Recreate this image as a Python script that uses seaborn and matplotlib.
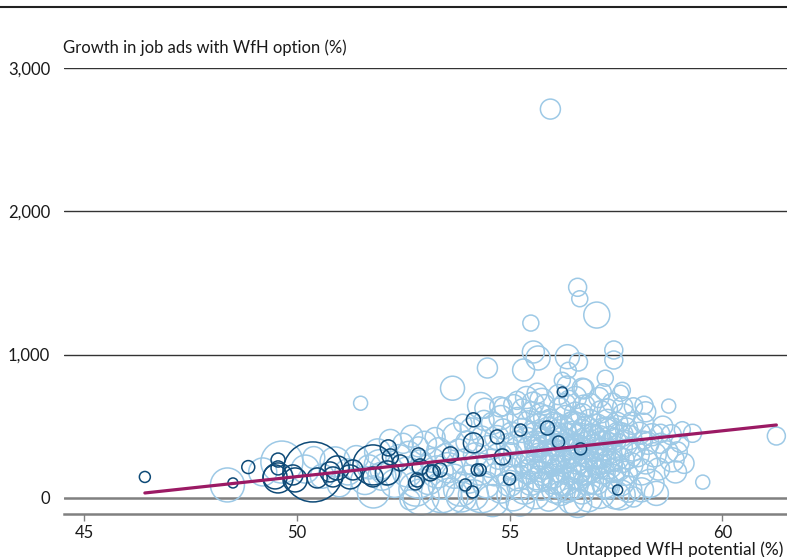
import matplotlib
matplotlib.use("Agg")
import matplotlib.pyplot as plt
from matplotlib.lines import Line2D
import seaborn as sns
import pandas as pd

# ---------------- data ----------------
# light-blue bubbles: untapped WfH potential (%), growth in WfH job ads (%), bubble weight
light_x = [55.96, 55.50, 56.60, 56.65, 57.05, 57.45, 57.45, 51.50, 53.66, 54.48,
           55.56, 55.67, 56.36, 56.62, 56.38, 56.24, 56.71, 57.25, 57.20, 57.61,
           57.91, 55.33, 55.18, 54.85, 54.42, 55.76, 58.16, 58.74, 59.06, 61.27,
           59.54, 58.94, 58.82, 57.65, 57.66, 58.15, 58.55, 58.10, 57.91, 54.32,
           54.77, 53.58, 53.75, 53.34, 52.86, 52.63, 51.94, 51.70, 52.92, 53.40,
           53.87, 54.34, 52.66, 48.37, 49.65,
           # band 53-55
           53.1, 53.2, 53.3, 53.4, 53.5, 53.55, 53.7, 53.8, 53.85, 53.95,
           54.0, 54.05, 54.15, 54.2, 54.3, 54.35, 54.45, 54.5, 54.55, 54.6,
           54.65, 54.7, 54.75, 54.8, 54.85, 54.9, 54.95, 53.0, 53.25, 53.6,
           54.1, 54.4, 54.6, 54.8, 53.9,
           # band 55-56
           55.0, 55.02, 55.05, 55.08, 55.1, 55.15, 55.18, 55.2, 55.22, 55.25,
           55.3, 55.32, 55.35, 55.4, 55.42, 55.45, 55.48, 55.5, 55.52, 55.55,
           55.58, 55.6, 55.62, 55.65, 55.68, 55.7, 55.72, 55.75, 55.78, 55.8,
           55.82, 55.85, 55.87, 55.9, 55.92, 55.95, 55.4, 55.65, 55.85, 55.1,
           55.3, 55.55, 55.75, 55.25, 55.45,
           # band 56-57
           56.0, 56.02, 56.05, 56.08, 56.1, 56.12, 56.15, 56.18, 56.2, 56.22,
           56.25, 56.28, 56.3, 56.32, 56.35, 56.38, 56.4, 56.42, 56.45, 56.48,
           56.5, 56.52, 56.55, 56.58, 56.6, 56.62, 56.65, 56.68, 56.7, 56.72,
           56.75, 56.78, 56.8, 56.82, 56.85, 56.88, 56.9, 56.15, 56.35, 56.55,
           56.75, 56.05, 56.25, 56.45, 56.65, 56.85, 56.95, 56.3, 56.5, 56.7,
           56.1, 56.4, 56.6, 56.8, 56.9,
           # band 57-58
           57.0, 57.03, 57.05, 57.08, 57.1, 57.12, 57.15, 57.18, 57.2, 57.22,
           57.25, 57.28, 57.3, 57.32, 57.35, 57.38, 57.4, 57.42, 57.45, 57.48,
           57.5, 57.52, 57.55, 57.58, 57.6, 57.62, 57.65, 57.68, 57.7, 57.72,
           57.75, 57.78, 57.8, 57.82, 57.85, 57.88, 57.9, 57.1, 57.3, 57.6,
           # band 58-59.5
           58.0, 58.05, 58.1, 58.15, 58.2, 58.25, 58.3, 58.35, 58.4, 58.5,
           58.55, 58.6, 58.7, 58.8, 59.0, 59.1, 58.45, 58.2, 59.3, 58.9,
           # band 49-53
           50.2, 50.6, 50.9, 51.2, 51.4, 51.6, 51.9, 52.1, 52.3, 52.4,
           52.6, 52.8, 52.9, 52.5, 51.0, 52.2, 52.7, 49.2, 50.4, 51.8,
           52.0, 52.85,
           # dense core
           55.55, 55.6, 55.7, 55.8, 55.9, 56.0, 56.1, 56.2, 56.3, 56.4,
           56.5, 56.6, 56.7, 56.8, 56.9, 57.0, 57.1, 57.2, 57.3, 57.4,
           55.65, 55.75, 55.85, 55.95, 56.05, 56.15, 56.25, 56.35, 56.45, 56.55,
           56.65, 56.75, 56.85, 56.95, 57.05, 57.15, 57.25, 57.35, 57.45, 57.55]
light_y = [2715, 1220, 1470, 1390, 1276, 1032, 962, 660, 765, 906,
           1018, 976, 985, 948, 890, 820, 765, 835, 740, 730,
           635, 892, 680, 635, 625, 680, 646, 640, 475, 431,
           109, 320, 265, 750, 635, 402, 450, 55, 5, 644,
           635, 470, 425, 335, 355, 310, 230, 215, 5, 35,
           5, 35, -15, 89, 249,
           120, 260, 180, 80, 300, 210, 150, 340, 60, 250,
           390, 130, 20, 300, 200, 430, 90, 350, 240, -20,
           160, 420, 290, 60, 480, 190, 370, 380, 420, 10,
           480, 540, 520, 560, 520,
           100, 300, 450, 20, 220, 380, 560, 140, 320, -30,
           470, 250, 60, 400, 180, 530, 330, 100, 600, 260,
           440, 20, 360, 160, 500, 290, 580, 80, 410, 220,
           650, 340, 130, 470, -10, 270, 700, 730, 560, 650,
           620, 660, 370, 80, 230,
           380, 150, 520, 60, 300, 440, 200, 620, 30, 350,
           480, 250, 120, 560, 400, 180, 680, 310, -20, 450,
           220, 90, 590, 360, 270, 500, 140, 420, 40, 330,
           640, 230, 470, 110, 380, 540, 290, 720, 780, 700,
           760, 250, 410, 330, 200, 0, 430, 650, 520, 580,
           90, 60, -40, 180, 650,
           350, 120, 500, 250, 420, 30, 600, 300, 180, 460,
           380, 80, 540, 230, 320, 470, 150, 660, 400, 20,
           280, 520, 200, 350, 110, 440, 260, 580, 380, 170,
           480, 300, 60, 420, 230, 520, 340, 700, 620, 20,
           300, 450, 180, 520, 250, 380, 100, 440, 300, 200,
           380, 500, 320, 440, 380, 240, 30, 600, 450, 180,
           200, 150, 250, 180, 280, 120, 320, 200, 100, 280,
           180, 60, 250, 380, 90, 400, 430, 180, 280, 40,
           150, 130,
           210, 390, 130, 460, 320, 240, 510, 100, 430, 280,
           360, 190, 470, 300, 120, 430, 220, 340, 480, 260,
           330, 170, 260, 540, 110, 370, 290, 50, 520, 150,
           350, 410, 240, 190, 280, 380, 90, 420, 190, 450]
light_w = [100, 64, 81, 64, 169, 81, 81, 49, 144, 100,
           121, 144, 144, 81, 64, 64, 100, 64, 64, 64,
           81, 121, 81, 81, 100, 144, 81, 49, 64, 81,
           49, 100, 144, 64, 100, 81, 81, 144, 100, 169,
           100, 144, 196, 144, 100, 144, 225, 144, 324, 400,
           225, 400, 100, 289, 441,
           196, 144, 256, 169, 121, 225, 144, 100, 289, 169,
           121, 196, 225, 144, 256, 100, 169, 144, 196, 256,
           121, 144, 169, 196, 100, 225, 121, 144, 100, 324,
           121, 100, 121, 144, 81,
           169, 144, 121, 256, 196, 144, 100, 169, 225, 196,
           144, 121, 225, 169, 144, 121, 196, 144, 100, 169,
           144, 196, 121, 225, 144, 169, 121, 196, 144, 169,
           100, 196, 144, 169, 144, 225, 121, 100, 144, 100,
           100, 121, 144, 169, 196,
           169, 144, 121, 196, 225, 144, 169, 121, 144, 196,
           169, 144, 225, 144, 121, 169, 100, 196, 169, 144,
           169, 196, 121, 144, 225, 169, 144, 196, 144, 169,
           121, 144, 196, 169, 144, 121, 169, 100, 100, 121,
           100, 144, 144, 169, 169, 196, 144, 121, 144, 121,
           169, 144, 196, 169, 121,
           169, 196, 144, 169, 144, 225, 121, 169, 144, 196,
           144, 169, 121, 196, 144, 169, 144, 100, 144, 196,
           169, 121, 144, 169, 196, 144, 144, 121, 169, 144,
           121, 196, 169, 144, 144, 121, 144, 100, 100, 225,
           144, 121, 169, 100, 144, 121, 196, 121, 144, 121,
           100, 100, 121, 100, 81, 100, 144, 100, 81, 121,
           196, 144, 225, 169, 144, 196, 169, 256, 196, 169,
           225, 289, 144, 100, 144, 121, 121, 196, 121, 256,
           196, 361,
           144, 121, 169, 121, 144, 169, 121, 144, 169, 121,
           144, 169, 121, 144, 169, 121, 144, 121, 144, 121,
           121, 144, 169, 121, 144, 121, 169, 144, 121, 169,
           144, 121, 169, 144, 121, 144, 169, 121, 144, 121]

# dark-blue bubbles
dark_x = [46.43, 48.50, 48.86, 49.56, 49.56, 49.49, 49.56, 49.91, 49.96, 50.38,
          50.48, 50.78, 50.95, 50.85, 51.25, 51.32, 51.79, 51.79, 52.15, 52.20,
          52.13, 52.43, 52.86, 52.90, 52.83, 53.14, 52.79, 53.21, 53.37, 53.61,
          54.15, 54.15, 54.24, 53.96, 54.13, 54.71, 54.83, 55.00, 55.89, 56.15,
          56.24, 56.67, 57.54, 54.31, 55.26]
dark_y = [145, 103, 214, 263, 208, 145, 138, 159, 124, 180,
          138, 180, 208, 145, 145, 194, 229, 145, 348, 285,
          173, 243, 299, 215, 124, 173, 103, 180, 194, 299,
          544, 383, 194, 89, 40, 425, 285, 131, 487, 389,
          739, 341, 54, 194, 473]
dark_w = [30, 25, 42, 49, 49, 144, 225, 100, 144, 900,
          100, 100, 144, 100, 144, 100, 400, 100, 64, 64,
          144, 64, 49, 64, 49, 64, 49, 49, 49, 64,
          49, 100, 36, 36, 36, 49, 64, 36, 49, 36,
          25, 36, 25, 36, 36]

# fitted trend line end points
fit_x = [46.43, 61.27]
fit_y = [33, 508]

y_ticks = [0, 1000, 2000, 3000]
y_labels = ["0", "1,000", "2,000", "3,000"]
x_ticks = [45, 50, 55, 60]
x_labels = ["45", "50", "55", "60"]

ylab = "Growth in job ads with WfH option (%)"
xlab = "Untapped WfH potential (%)"

# ---------------- plot ----------------
sns.set_theme(style="white")
plt.rcParams["font.family"] = ["Lato", "DejaVu Sans"]

LIGHT = "#9dc9e6"
DARK = "#0e4a77"
LINE = "#9b1a64"
TXT = "#1a1a1a"

W, H = 787, 557
fig = plt.figure(figsize=(W / 100, H / 100), dpi=100)
ax = fig.add_axes([64 / W, 1 - 514.3 / H, 1 - 64 / W, (514.3 - 68.3) / H])

light = pd.DataFrame({"x": light_x, "y": light_y, "w": light_w})
dark = pd.DataFrame({"x": dark_x, "y": dark_y, "w": dark_w})

WMAX = 900.0
SMAX = (1.44 * 30) ** 2

for df, col, z in [(light, LIGHT, 2), (dark, DARK, 3)]:
    n0 = len(ax.collections)
    sns.scatterplot(data=df, x="x", y="y", size="w", sizes=(0, SMAX),
                    size_norm=(0, WMAX), legend=False, ax=ax, zorder=z)
    coll = ax.collections[n0]
    coll.set_facecolor("none")
    coll.set_edgecolor(col)
    coll.set_linewidth(1.1)
    coll.set_clip_on(False)

fit = pd.DataFrame({"x": fit_x, "y": fit_y})
sns.lineplot(data=fit, x="x", y="y", ax=ax, color=LINE, lw=2.3, zorder=5)

ax.set_xlim(44.53, 61.52)
ax.set_ylim(-116, 3000)

for yv in y_ticks:
    if yv == 0:
        ax.axhline(yv, color="#808080", lw=1.8, zorder=1)
    else:
        ax.axhline(yv, color="#333333", lw=1.0, zorder=1)

ax.set_yticks(y_ticks)
ax.set_yticklabels(y_labels)
ax.set_xticks(x_ticks)
ax.set_xticklabels(x_labels)
ax.tick_params(axis="y", length=0, pad=10, labelsize=12, labelcolor=TXT)
ax.tick_params(axis="x", length=5, width=1, color="#808080", pad=3,
               labelsize=12, labelcolor=TXT, bottom=True)
for s in ["top", "right", "left"]:
    ax.spines[s].set_visible(False)
ax.spines["bottom"].set_color("#808080")
ax.spines["bottom"].set_linewidth(1.8)
ax.set_xlabel("")
ax.set_ylabel("")
ax.grid(False)

fig.text(63 / W, 1 - 48 / H, ylab, ha="left", va="center", fontsize=12, color=TXT)
fig.text(783 / W, 1 - 550 / H, xlab, ha="right", va="center", fontsize=12.5, color=TXT)
fig.add_artist(Line2D([0, 1], [1 - 7 / H, 1 - 7 / H], color="#222222", lw=1.5))

fig.savefig("out.png", dpi=100)
